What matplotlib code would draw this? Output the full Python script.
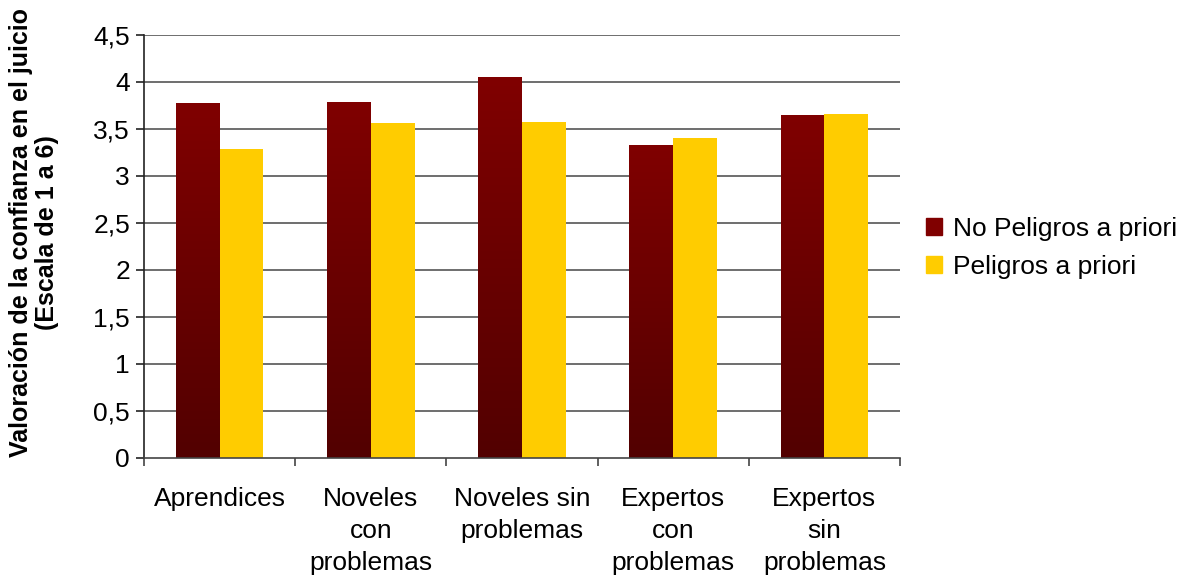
import numpy as np
import matplotlib.pyplot as plt
from matplotlib.patches import Rectangle
from matplotlib.colors import LinearSegmentedColormap

plt.rcParams['font.family'] = ['Liberation Sans', 'DejaVu Sans']

categories = ['Aprendices', 'Noveles\ncon\nproblemas', 'Noveles sin\nproblemas',
              'Expertos\ncon\nproblemas', 'Expertos\nsin\nproblemas']
no_peligros = [3.78, 3.79, 4.05, 3.33, 3.65]
peligros = [3.29, 3.56, 3.57, 3.40, 3.66]
yticks = [0, 0.5, 1, 1.5, 2, 2.5, 3, 3.5, 4, 4.5]

red_top = '#800000'
red_bottom = '#520000'
yellow = '#FFCC00'
red_cmap = LinearSegmentedColormap.from_list('red_grad', [red_bottom, red_top])

fig = plt.figure(figsize=(11.91, 5.79), dpi=100)
ax = fig.add_axes([0.1209, 0.209, 0.6348, 0.7306])

x = np.arange(len(categories))
w = 0.29

# gridlines behind the bars
for t in yticks[1:]:
    ax.axhline(t, color='#555555', lw=1.2, zorder=0)

grad = np.linspace(0, 1, 256).reshape(-1, 1)
for xi, v in zip(x, no_peligros):
    left = xi - w
    im = ax.imshow(grad, cmap=red_cmap, origin='lower', aspect='auto',
                   extent=[left, left + w, 0, v], zorder=2)
    clip = Rectangle((left, 0), w, v, transform=ax.transData, facecolor='none', edgecolor='none')
    ax.add_patch(clip)
    im.set_clip_path(clip)

ax.bar(x + w / 2, peligros, w, color=yellow, zorder=2)

ax.set_xlim(-0.5, len(categories) - 0.5)
ax.set_ylim(0, 4.5)
ax.set_yticks(yticks)
ax.set_yticklabels([f'{t:g}'.replace('.', ',') for t in yticks], fontsize=19)
ax.set_xticks(x)
ax.set_xticklabels(categories, fontsize=19, va='top', linespacing=1.42)
ax.set_xticks(np.arange(len(categories) + 1) - 0.5, minor=True)
ax.tick_params(axis='x', which='major', length=0, pad=21)
ax.tick_params(axis='x', which='minor', length=6, width=1.2, color='#444444')
ax.tick_params(axis='y', length=6, width=1.2, color='#222222', pad=4)

for side in ['top', 'right']:
    ax.spines[side].set_visible(False)
ax.spines['left'].set_color('#222222')
ax.spines['left'].set_linewidth(1.2)
ax.spines['bottom'].set_color('#444444')
ax.spines['bottom'].set_linewidth(1.2)

ax.set_ylabel('Valoración de la confianza en el juicio\n(Escala de 1 a 6)',
              fontsize=18, fontweight='bold', linespacing=1.1)
ax.yaxis.set_label_coords(-0.113, 0.533)

handles = [Rectangle((0, 0), 1, 1, color=red_top), Rectangle((0, 0), 1, 1, color=yellow)]
fig.legend(handles, ['No Peligros a priori', 'Peligros a priori'],
           loc='center left', bbox_to_anchor=(0.7577, 0.572), frameon=False,
           fontsize=19, handlelength=0.6, handleheight=0.6, handletextpad=0.4,
           labelspacing=0.55)

fig.savefig('out.png', dpi=100)
